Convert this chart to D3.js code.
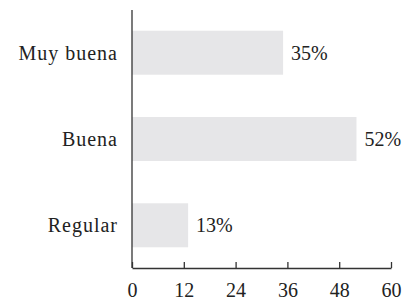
<!DOCTYPE html>
<html><head><meta charset="utf-8">
<script src="https://cdn.jsdelivr.net/npm/d3@7"></script>
<style>body{margin:0;background:#fff}svg{display:block}</style>
</head><body>
<svg id="c" width="409" height="301"></svg>
<script>
const categories = ["Muy buena", "Buena", "Regular"];
const values = [35, 52, 13];
const valueLabels = ["35%", "52%", "13%"];
const tickValues = [0, 12, 24, 36, 48, 60];

const svg = d3.select("#c");
const font = "'Liberation Serif', 'Times New Roman', serif";
const fs = 20;
const x = d3.scaleLinear().domain([0, 60]).range([132, 391]);
const y = d3.scaleBand().domain(categories).range([10, 268]).paddingInner(0.49).paddingOuter(0.24);

svg.selectAll("rect.bar").data(categories).join("rect")
  .attr("class", "bar")
  .attr("x", x(0)).attr("y", d => y(d))
  .attr("width", (d, i) => x(values[i]) - x(0))
  .attr("height", y.bandwidth())
  .attr("fill", "#e6e6e8");

svg.selectAll("text.cat").data(categories).join("text")
  .attr("class", "cat")
  .attr("x", x(0) - 14).attr("y", d => y(d) + y.bandwidth() / 2)
  .attr("dy", "0.35em").attr("text-anchor", "end")
  .attr("font-family", font).attr("font-size", fs).attr("fill", "#222")
  .attr("letter-spacing", "1px")
  .text(d => d);

svg.selectAll("text.val").data(categories).join("text")
  .attr("class", "val")
  .attr("x", (d, i) => x(values[i]) + 8).attr("y", d => y(d) + y.bandwidth() / 2)
  .attr("dy", "0.35em")
  .attr("font-family", font).attr("font-size", fs).attr("fill", "#222")
  .text((d, i) => valueLabels[i]);

// y axis line
svg.append("line").attr("x1", x(0)).attr("x2", x(0)).attr("y1", 10).attr("y2", 268)
  .attr("stroke", "#333").attr("stroke-width", 1.3);

const xAxis = d3.axisBottom(x).tickValues(tickValues).tickSize(-6).tickSizeOuter(0).tickPadding(15);
const gx = svg.append("g").attr("transform", "translate(0,268)").call(xAxis);
gx.select(".domain").attr("stroke", "#333").attr("stroke-width", 1.3);
gx.selectAll(".tick line").attr("stroke", "#333").attr("stroke-width", 1.3);
gx.selectAll(".tick text").attr("font-family", font).attr("font-size", fs).attr("fill", "#222");
</script>
</body></html>
